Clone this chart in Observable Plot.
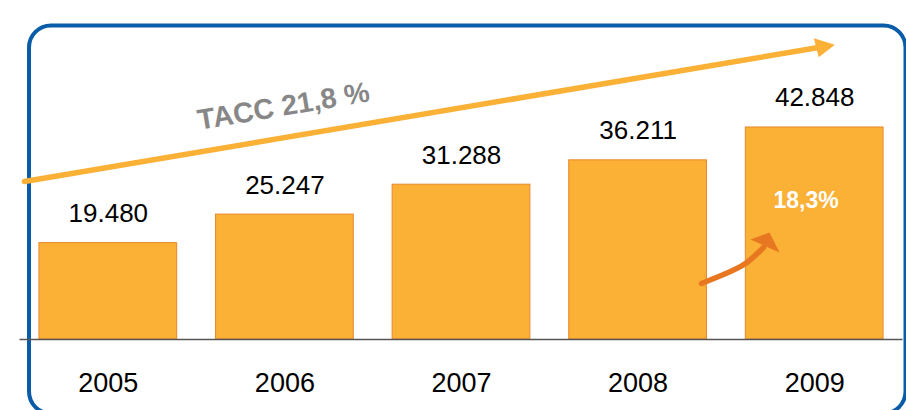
<!DOCTYPE html>
<html>
<head>
<meta charset="utf-8">
<script src="https://cdn.jsdelivr.net/npm/d3@7"></script>
<script src="https://cdn.jsdelivr.net/npm/@observablehq/plot@0.6"></script>
<style>
  html, body { margin: 0; padding: 0; background: #fff; }
</style>
</head>
<body>
<div id="chart"></div>
<script>
// Data
const years = [2005, 2006, 2007, 2008, 2009];
const values = [19480, 25247, 31288, 36211, 42848];
const valueLabels = ["19.480", "25.247", "31.288", "36.211", "42.848"];
const yearLabels = ["2005", "2006", "2007", "2008", "2009"];

// Annotations (in data units: year, value)
const taccLabel = ["TACC 21,8 %"];
const taccPos = [{x: 2005.992, y: 47090}];
const taccLine = [{x: 2004.525, y: 31932}, {x: 2009.021, y: 59013}];
const taccHead = [{x: 2008.995, y: 60893}, {x: 2009.114, y: 59559}, {x: 2009.023, y: 57053}];
const growthLabel = ["18,3%"];
const growthPos = [{x: 2008.951, y: 26677}];
const growthShaft = [{x: 2008.359, y: 11318}, {x: 2008.484, y: 13137}, {x: 2008.608, y: 15360}, {x: 2008.710, y: 18593}];
const growthHead = [{x: 2008.636, y: 20210}, {x: 2008.744, y: 21625}, {x: 2008.801, y: 17583}];

const data = years.map((yr, i) => ({year: yr, value: values[i], label: valueLabels[i]}));
const halfBar = 0.39;

const barFill = "#fbb036";
const barStroke = "#e8882c";
const arrowDark = "#e87722";

const chart = Plot.plot({
  width: 906,
  height: 410,
  marginLeft: 19.5,
  marginRight: 3.5,
  marginTop: 20,
  marginBottom: 71,
  style: {fontFamily: "'Liberation Sans', Arial, sans-serif", color: "#000", background: "#fff"},
  x: {type: "linear", domain: [2004.5, 2009.5]},
  y: {domain: [0, 64470], axis: null},
  marks: [
    Plot.frame({stroke: "#0a5ca8", strokeWidth: 4, rx: 22, ry: 22,
      insetLeft: 9, insetTop: 5, insetRight: -2.5, insetBottom: -74}),
    Plot.rectY(data, {x1: d => d.year - halfBar, x2: d => d.year + halfBar, y: "value",
      fill: barFill, stroke: barStroke, strokeWidth: 1}),
    Plot.ruleY([0], {stroke: "#555", strokeWidth: 1.5}),
    Plot.text(data, {x: "year", y: "value", text: "label", dy: -21, lineAnchor: "bottom",
      fontSize: 26, fill: "#000"}),
    Plot.axisX({ticks: years, tickFormat: (d) => yearLabels[years.indexOf(d)], tickSize: 0,
      tickPadding: 33, fontSize: 27, fill: "#000"}),
    // TACC arrow
    Plot.line(taccLine, {x: "x", y: "y", stroke: barFill, strokeWidth: 5.5}),
    Plot.line(taccHead, {x: "x", y: "y", fill: barFill, stroke: "none"}),
    Plot.text(taccLabel, {x: taccPos[0].x, y: taccPos[0].y, text: d => d, rotate: -9.5,
      fontSize: 28.5, fontWeight: "bold", fill: "#878787", lineAnchor: "middle"}),
    // growth arrow
    Plot.line(growthShaft, {x: "x", y: "y", stroke: arrowDark, strokeWidth: 5.5, curve: "natural"}),
    Plot.line(growthHead, {x: "x", y: "y", fill: arrowDark, stroke: "none"}),
    Plot.text(growthLabel, {x: growthPos[0].x, y: growthPos[0].y, text: d => d,
      fontSize: 23, fontWeight: "bold", fill: "#fff", lineAnchor: "bottom"})
  ]
});
document.getElementById("chart").appendChild(chart);
</script>
</body>
</html>
